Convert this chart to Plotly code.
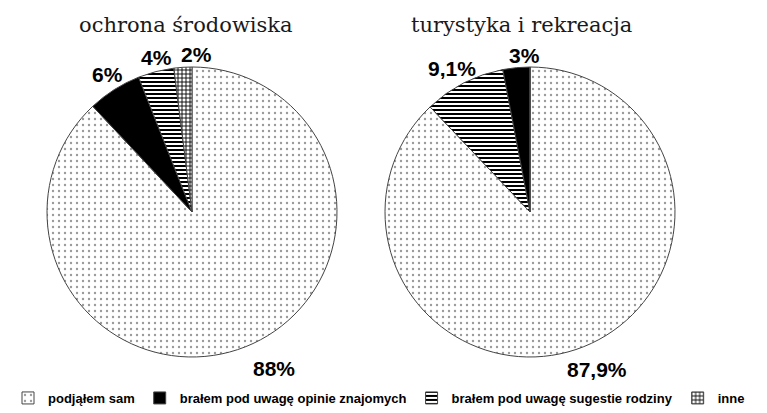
import plotly.graph_objects as go

CATEGORIES = [
    "podjąłem sam",
    "brałem pod uwagę opinie znajomych",
    "brałem pod uwagę sugestie rodziny",
    "inne",
]
TITLES = ["ochrona środowiska", "turystyka i rekreacja"]

# slice order clockwise from 12 o'clock, as drawn in the original
ORDER_LEFT = [0, 1, 2, 3]
VALUES_LEFT = [88, 6, 4, 2]
ORDER_RIGHT = [0, 2, 1, 3]
VALUES_RIGHT = [87.9, 9.1, 3, 0]

PATTERNS = {
    "podjąłem sam": {"shape": ".", "fgcolor": "#9a9a9a", "bgcolor": "white", "size": 6, "solidity": 0.12},
    "brałem pod uwagę opinie znajomych": {"shape": "", "fgcolor": "black", "bgcolor": "black"},
    "brałem pod uwagę sugestie rodziny": {"shape": "-", "fgcolor": "black", "bgcolor": "white", "size": 4, "solidity": 0.5},
    "inne": {"shape": "+", "fgcolor": "black", "bgcolor": "white", "size": 4, "solidity": 0.4},
}
FILLS = {
    "podjąłem sam": "white",
    "brałem pod uwagę opinie znajomych": "black",
    "brałem pod uwagę sugestie rodziny": "white",
    "inne": "white",
}

# page body has an 8px margin, so the figure is sized to the visible window
W, H, OFF = 759, 405, 8


def px_x(x):
    return (x - OFF) / W


def px_y(y):
    return 1 - (y - OFF) / H


def pct(v):
    return f"{v:g}".replace(".", ",") + "%"


fig = go.Figure()
domains = [[px_x(47), px_x(337)], [px_x(385), px_x(675)]]
for order, values, dom, show in [
    (ORDER_LEFT, VALUES_LEFT, domains[0], True),
    (ORDER_RIGHT, VALUES_RIGHT, domains[1], False),
]:
    labels = [CATEGORIES[i] for i in order]
    fig.add_trace(
        go.Pie(
            labels=labels,
            values=values,
            sort=False,
            direction="clockwise",
            rotation=0,
            textinfo="none",
            hoverinfo="label+percent",
            domain={"x": dom, "y": [px_y(357), px_y(67)]},
            marker={
                "colors": [FILLS[l] for l in labels],
                "pattern": {
                    "shape": [PATTERNS[l]["shape"] for l in labels],
                    "fgcolor": [PATTERNS[l]["fgcolor"] for l in labels],
                    "bgcolor": [PATTERNS[l]["bgcolor"] for l in labels],
                    "size": [PATTERNS[l].get("size", 6) for l in labels],
                    "solidity": [PATTERNS[l].get("solidity", 0.3) for l in labels],
                },
                "line": {"color": "#444", "width": 1},
            },
            showlegend=show,
        )
    )

# percentage labels placed like in the source figure
label_spots = [
    (VALUES_LEFT[0], 274, 368), (VALUES_LEFT[1], 107, 75),
    (VALUES_LEFT[2], 156, 57), (VALUES_LEFT[3], 196, 55),
    (VALUES_RIGHT[0], 597, 369), (VALUES_RIGHT[1], 452, 68),
    (VALUES_RIGHT[2], 524, 56),
]
for v, x, y in label_spots:
    fig.add_annotation(
        x=px_x(x), y=px_y(y), xref="paper", yref="paper",
        xanchor="center", yanchor="middle",
        text=f"<b>{pct(v)}</b>", showarrow=False,
        font={"family": "Liberation Sans, Arial", "size": 21, "color": "black"},
    )

for title, cx in zip(TITLES, [186, 521]):
    fig.add_annotation(
        x=px_x(cx), y=px_y(25), xref="paper", yref="paper",
        xanchor="center", yanchor="middle",
        text=title, showarrow=False,
        font={"family": "DejaVu Serif, Liberation Serif", "size": 21, "color": "#1a1a1a"},
    )

fig.update_layout(
    width=W,
    height=H,
    margin={"l": 0, "r": 0, "t": 0, "b": 0, "autoexpand": False},
    paper_bgcolor="white",
    plot_bgcolor="white",
    legend={
        "orientation": "h",
        "xref": "container",
        "yref": "container",
        "x": 0.0,
        "y": -0.012,
        "xanchor": "left",
        "yanchor": "bottom",
        "font": {"family": "Liberation Sans Narrow, Arial Narrow, Liberation Sans", "size": 13, "color": "black", "weight": "bold"},
        "itemwidth": 30,
        "traceorder": "normal",
    },
)

fig.write_html("out.html")
